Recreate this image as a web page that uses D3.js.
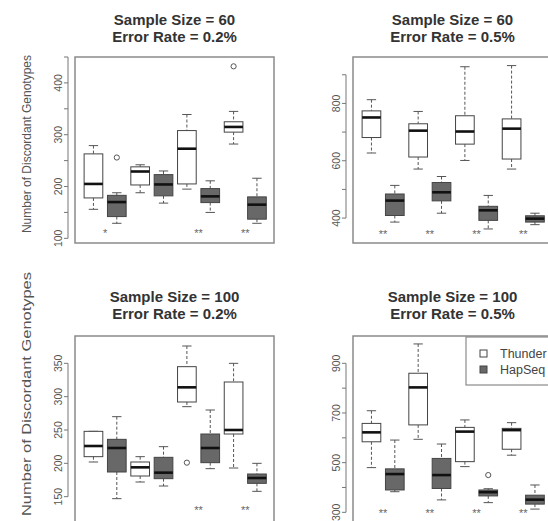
<!DOCTYPE html>
<html lang="en">
<head>
<meta charset="UTF-8">
<title>Discordant Genotypes</title>
<script src="https://d3js.org/d3.v7.min.js"></script>
<style>
  body { margin: 0; background: #fff; overflow: hidden; }
  svg { display: block; font-family: "Liberation Sans", Arial, sans-serif; }
  .title { font-weight: bold; font-size: 15px; fill: #333; text-anchor: middle; }
  .tick-label { font-size: 10.5px; fill: #555; text-anchor: middle; }
  .ylab { font-size: 12px; fill: #555; text-anchor: middle; }
  .star { font-size: 11px; fill: #666; text-anchor: middle; }
  .legend-text { font-size: 12.5px; fill: #444; }
</style>
</head>
<body>
<div id="chart"></div>
<script>
// ---- data ----
const methods = ["Thunder", "HapSeq"];
const panelTitles = [
  ["Sample Size = 60", "Error Rate = 0.2%"],
  ["Sample Size = 60", "Error Rate = 0.5%"],
  ["Sample Size = 100", "Error Rate = 0.2%"],
  ["Sample Size = 100", "Error Rate = 0.5%"]
];
const yLabel = "Number of Discordant Genotypes";

// each box: [lower whisker, Q1, median, Q3, upper whisker]; boxes alternate Thunder / HapSeq
const stats60_02 = [
  [156, 178, 205, 263, 279], [129, 142, 170, 183, 188],
  [188, 203, 229, 238, 242], [168, 182, 204, 223, 230],
  [195, 205, 273, 308, 339], [150, 169, 181, 196, 211],
  [282, 305, 315, 325, 345], [129, 137, 165, 180, 216]
];
const stats60_05 = [
  [627, 681, 751, 774, 813], [386, 409, 461, 484, 514],
  [571, 613, 705, 729, 772], [417, 460, 490, 524, 545],
  [601, 658, 702, 757, 928], [362, 392, 427, 441, 479],
  [571, 606, 712, 746, 932], [377, 386, 398, 408, 417]
];
const stats100_02 = [
  [202, 210, 226, 248, 248], [147, 187, 223, 236, 270],
  [172, 181, 194, 202, 210], [166, 177, 186, 209, 225],
  [285, 292, 314, 345, 376], [192, 201, 223, 244, 280],
  [193, 244, 250, 322, 350], [158, 170, 178, 184, 200]
];
const stats100_05 = [
  [480, 584, 622, 658, 709], [383, 390, 454, 475, 591],
  [594, 652, 803, 860, 978], [350, 396, 450, 517, 575],
  [484, 504, 625, 642, 672], [339, 366, 381, 390, 395],
  [530, 554, 631, 638, 661], [313, 333, 351, 369, 410]
];
// outliers: [box index (1-8), value]
const outliers60_02 = [[2, 256], [7, 432]];
const outliers60_05 = [];
const outliers100_02 = [[5, 201]];
const outliers100_05 = [[6, 450]];

// significance marks under each Thunder/HapSeq pair
const stars60_02 = ["*", "", "**", "**"];
const stars60_05 = ["**", "**", "**", "**"];
const stars100_02 = ["", "", "**", "**"];
const stars100_05 = ["**", "**", "**", "**"];

const ticks60_02 = [100, 150, 200, 250, 300, 350, 400, 450];
const labels60_02 = [100, 200, 300, 400];
const ticks60_05 = [400, 500, 600, 700, 800, 900];
const labels60_05 = [400, 600, 800];
const ticks100_02 = [150, 200, 250, 300, 350];
const labels100_02 = [150, 200, 250, 300, 350];
const ticks100_05 = [300, 400, 500, 600, 700, 800, 900];
const labels100_05 = [300, 500, 700, 900];

// ---- layout ----
const W = 548, H = 521;
const frameW = 199, frameH = 186;
const panels = [
  { left: 75, top: 57, yDomain: [91, 450], stats: stats60_02, out: outliers60_02, stars: stars60_02, starY: 113,
    ticks: ticks60_02, labels: labels60_02, title: panelTitles[0], ylab: { cy: 144, len: null } },
  { left: 353, top: 57, yDomain: [313, 962], stats: stats60_05, out: outliers60_05, stars: stars60_05, starY: 348,
    ticks: ticks60_05, labels: labels60_05, title: panelTitles[1], ylab: null },
  { left: 75, top: 336, yDomain: [112, 391], stats: stats100_02, out: outliers100_02, stars: stars100_02, starY: 131,
    ticks: ticks100_02, labels: labels100_02, title: panelTitles[2], ylab: { cy: 394, len: 244 } },
  { left: 353, top: 336, yDomain: [261, 1010], stats: stats100_05, out: outliers100_05, stars: stars100_05, starY: 300,
    ticks: ticks100_05, labels: labels100_05, title: panelTitles[3], ylab: null, legend: true }
];

const fills = ["#ffffff", "#686868"];

const svg = d3.select("#chart").append("svg")
  .attr("width", W)
  .attr("height", H);

panels.forEach((p, pi) => {
  const g = svg.append("g");
  const x = d3.scaleLinear().domain([0.21, 8.73]).range([p.left, p.left + frameW]);
  const y = d3.scaleLinear().domain(p.yDomain).range([p.top + frameH, p.top]);
  const step = x(2) - x(1);
  const boxW = step * 0.8;
  const titleShift = pi >= 2 ? 2 : 0;

  // titles
  g.append("text").attr("class", "title")
    .attr("x", p.left + frameW / 2).attr("y", p.top - 32 - titleShift)
    .text(p.title[0]);
  g.append("text").attr("class", "title")
    .attr("x", p.left + frameW / 2).attr("y", p.top - 15.5 - titleShift)
    .text(p.title[1]);

  // frame
  g.append("rect")
    .attr("x", p.left).attr("y", p.top)
    .attr("width", frameW).attr("height", frameH)
    .attr("fill", "none").attr("stroke", "#8a8a8a").attr("stroke-width", 1.5);

  // y axis, offset a little from the frame like base R
  const axisX = p.left - 7;
  g.append("line")
    .attr("x1", axisX).attr("x2", axisX)
    .attr("y1", y(d3.min(p.ticks))).attr("y2", y(d3.max(p.ticks)))
    .attr("stroke", "#777");
  g.selectAll(".tick").data(p.ticks).enter().append("line")
    .attr("x1", axisX - 4).attr("x2", axisX)
    .attr("y1", d => y(d)).attr("y2", d => y(d))
    .attr("stroke", "#777");
  g.selectAll(".tick-label").data(p.labels).enter().append("text")
    .attr("class", "tick-label")
    .attr("transform", d => `translate(${p.left - 13},${y(d)}) rotate(-90)`)
    .text(d => d);

  if (p.ylab) {
    const t = g.append("text").attr("class", "ylab")
      .attr("transform", `translate(31,${p.ylab.cy}) rotate(-90)`)
      .text(yLabel);
    if (p.ylab.len) {
      t.attr("textLength", p.ylab.len).attr("lengthAdjust", "spacingAndGlyphs")
        .style("font-size", "12.5px");
    }
  }

  // boxes
  p.stats.forEach((s, i) => {
    const cx = x(i + 1);
    const [lo, q1, med, q3, hi] = s;
    const bg = g.append("g");
    // dashed whiskers
    bg.append("line")
      .attr("x1", cx).attr("x2", cx).attr("y1", y(hi)).attr("y2", y(q3))
      .attr("stroke", "#555").attr("stroke-dasharray", "3,2");
    bg.append("line")
      .attr("x1", cx).attr("x2", cx).attr("y1", y(q1)).attr("y2", y(lo))
      .attr("stroke", "#555").attr("stroke-dasharray", "3,2");
    // caps
    [lo, hi].forEach(v => {
      bg.append("line")
        .attr("x1", cx - boxW / 4).attr("x2", cx + boxW / 4)
        .attr("y1", y(v)).attr("y2", y(v))
        .attr("stroke", "#555");
    });
    bg.append("rect")
      .attr("x", cx - boxW / 2).attr("y", y(q3))
      .attr("width", boxW).attr("height", y(q1) - y(q3))
      .attr("fill", fills[i % 2]).attr("stroke", "#444").attr("stroke-width", 1);
    bg.append("line")
      .attr("x1", cx - boxW / 2).attr("x2", cx + boxW / 2)
      .attr("y1", y(med)).attr("y2", y(med))
      .attr("stroke", "#111").attr("stroke-width", 2.6);
  });

  // outliers
  g.selectAll(".outlier").data(p.out).enter().append("circle")
    .attr("cx", d => x(d[0])).attr("cy", d => y(d[1])).attr("r", 2.6)
    .attr("fill", "none").attr("stroke", "#555");

  // significance stars
  g.selectAll(".star").data(p.stars).enter().append("text")
    .attr("class", "star")
    .attr("x", (d, i) => x(2 * i + 1.5))
    .attr("y", y(p.starY) + 5)
    .text(d => d);

  if (p.legend) {
    const lx = 466, ly = 337;
    g.append("rect")
      .attr("x", lx).attr("y", ly).attr("width", 110).attr("height", 48)
      .attr("fill", "#fff").attr("stroke", "#8a8a8a").attr("stroke-width", 1.2);
    methods.forEach((m, i) => {
      g.append("rect")
        .attr("x", lx + 14).attr("y", ly + 13 + i * 16)
        .attr("width", 7).attr("height", 7)
        .attr("fill", fills[i]).attr("stroke", "#444");
      g.append("text").attr("class", "legend-text")
        .attr("x", lx + 34).attr("y", ly + 21 + i * 16)
        .text(m);
    });
  }
});
</script>
</body>
</html>
